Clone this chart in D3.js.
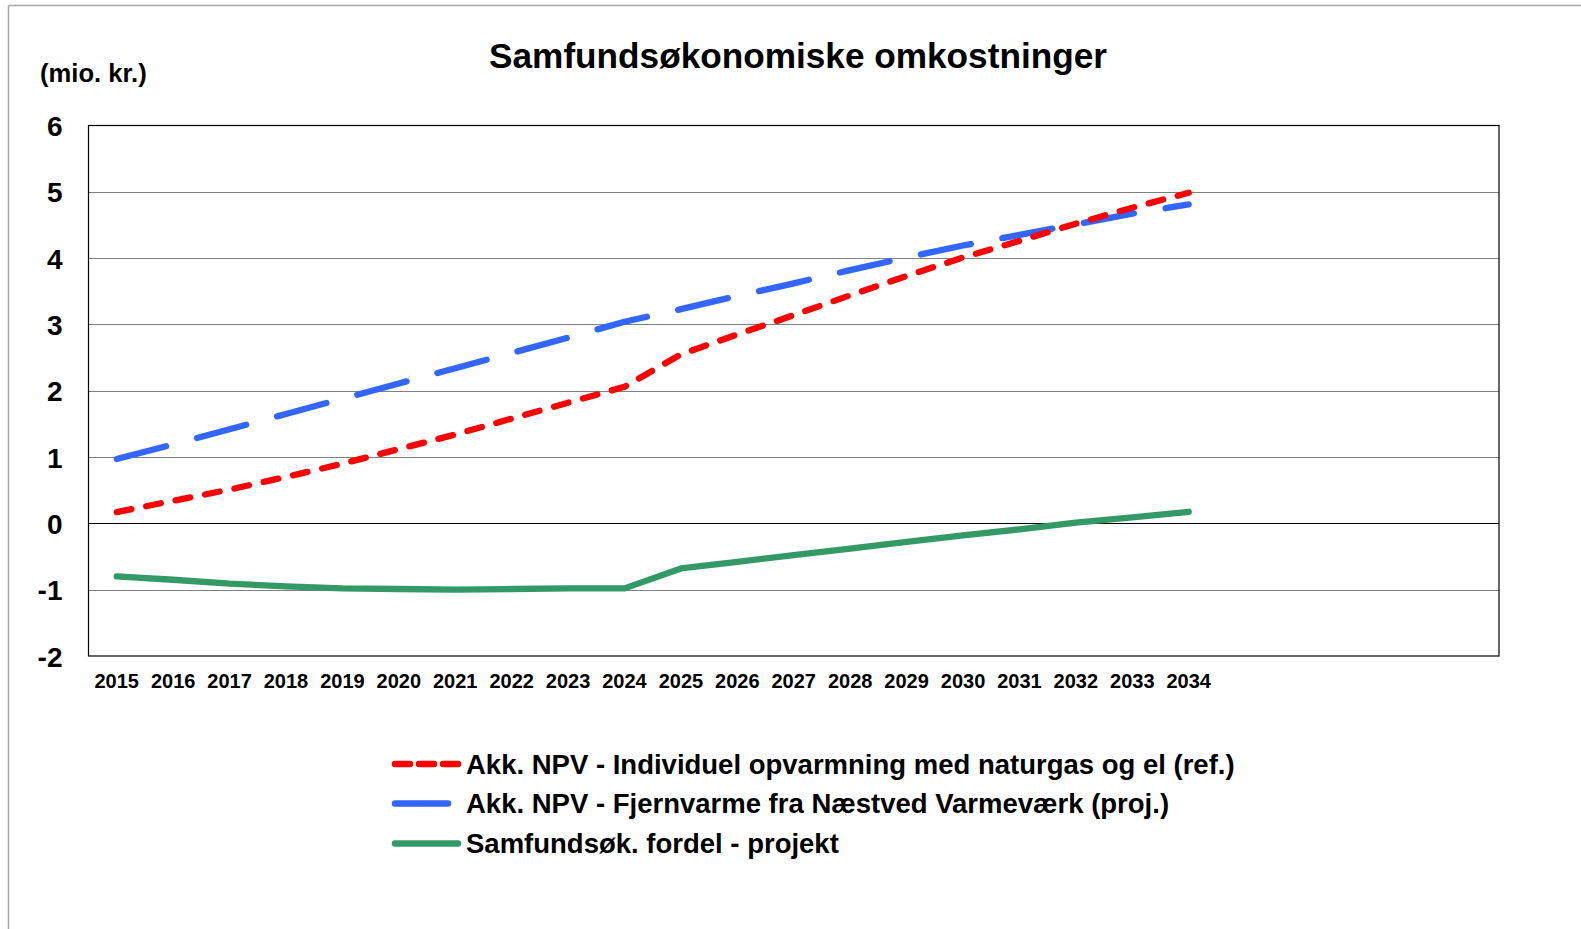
<!DOCTYPE html>
<html>
<head>
<meta charset="utf-8">
<script src="https://cdn.jsdelivr.net/npm/d3@7"></script>
<style>
  html, body { margin: 0; padding: 0; background: #fff; }
  svg { display: block; }
  text { font-family: Arial, "Liberation Sans", sans-serif; font-weight: bold; fill: #000; }
</style>
</head>
<body>
<svg id="chart" width="1581" height="929"></svg>
<script>
// ---- data ----
const years = ["2015","2016","2017","2018","2019","2020","2021","2022","2023","2024",
               "2025","2026","2027","2028","2029","2030","2031","2032","2033","2034"];
const refValues  = [0.17, 0.34, 0.51, 0.70, 0.90, 1.12, 1.34, 1.58, 1.82, 2.06,
                    2.55, 2.85, 3.14, 3.44, 3.73, 4.01, 4.26, 4.52, 4.76, 4.985];
const projValues = [0.97, 1.19, 1.42, 1.65, 1.88, 2.11, 2.34, 2.57, 2.80, 3.04,
                    3.23, 3.43, 3.62, 3.82, 4.01, 4.19, 4.35, 4.51, 4.67, 4.81];
const diffValues = [-0.80, -0.85, -0.91, -0.95, -0.98, -0.99, -1.00, -0.99, -0.98, -0.98,
                    -0.68, -0.58, -0.48, -0.38, -0.28, -0.18, -0.09, 0.01, 0.09, 0.175];
const yTicks = [-2, -1, 0, 1, 2, 3, 4, 5, 6];
const seriesNames = [
  "Akk. NPV - Individuel opvarmning med naturgas og el (ref.)",
  "Akk. NPV - Fjernvarme fra Næstved Varmeværk (proj.)",
  "Samfundsøk. fordel - projekt"
];
const title = "Samfundsøkonomiske omkostninger";
const unitLabel = "(mio. kr.)";

// ---- layout ----
const W = 1581, H = 929;
const plot = { left: 88.5, right: 1499, top: 125.5, bottom: 656 };
const slotCount = 25; // category axis has room for 25 slots, 20 used

const svg = d3.select("#chart");

// outer frame (gray lines top & left)
svg.append("line").attr("x1", 8.5).attr("x2", W).attr("y1", 5.5).attr("y2", 5.5)
  .attr("stroke", "#a6a6a6").attr("stroke-width", 1.5);
svg.append("line").attr("x1", 8.5).attr("x2", 8.5).attr("y1", 5.5).attr("y2", H)
  .attr("stroke", "#a6a6a6").attr("stroke-width", 1.5);

const slots = years.concat(d3.range(years.length, slotCount).map(i => "_" + i));
const x = d3.scaleBand().domain(slots).range([plot.left, plot.right]).paddingInner(0).paddingOuter(0);
const xc = d => x(d) + x.bandwidth() / 2;
const y = d3.scaleLinear().domain([-2, 6]).range([plot.bottom, plot.top]);

// gridlines
svg.append("g").selectAll("line").data(yTicks.filter(t => t > -2 && t < 6)).join("line")
  .attr("x1", plot.left).attr("x2", plot.right)
  .attr("y1", d => Math.round(y(d)) + 0.5).attr("y2", d => Math.round(y(d)) + 0.5)
  .attr("stroke", d => d === 0 ? "#000" : "#808080").attr("stroke-width", 1.2);

// plot border
svg.append("rect")
  .attr("x", plot.left).attr("y", plot.top)
  .attr("width", plot.right - plot.left).attr("height", plot.bottom - plot.top)
  .attr("fill", "none").attr("stroke", "#000").attr("stroke-width", 1.2);

// y axis labels (hyphen-minus as in the original)
const yAxis = d3.axisLeft(y).tickValues(yTicks).tickSize(0).tickPadding(0).tickFormat(d => String(d));
const gy = svg.append("g").attr("transform", `translate(${plot.left - 26},0)`).call(yAxis);
gy.select(".domain").remove();
gy.selectAll("text").attr("font-size", 28).attr("font-family", "Arial, 'Liberation Sans', sans-serif")
  .attr("font-weight", "bold").attr("fill", "#000").attr("dy", "0.36em");

// x axis labels
const xAxis = d3.axisBottom(x).tickValues(years).tickSize(0).tickPadding(0);
const gx = svg.append("g").attr("transform", `translate(0,${plot.bottom})`).call(xAxis);
gx.select(".domain").remove();
gx.selectAll("text").attr("font-size", 20).attr("font-family", "Arial, 'Liberation Sans', sans-serif")
  .attr("font-weight", "bold").attr("fill", "#000").attr("y", 32).attr("dy", 0);

// series
const series = [
  { name: seriesNames[0], values: refValues,  color: "#ff0000", dash: "15,15", cap: "round" },
  { name: seriesNames[1], values: projValues, color: "#3366ff", dash: "51,32", cap: "round" },
  { name: seriesNames[2], values: diffValues, color: "#339966", dash: null,    cap: "round" }
];
const line = d3.line().x((d, i) => xc(years[i])).y(d => y(d));
// draw green first, then blue, then red on top
[series[2], series[1], series[0]].forEach(s => {
  svg.append("path").datum(s.values)
    .attr("d", line).attr("fill", "none")
    .attr("stroke", s.color).attr("stroke-width", 6.3)
    .attr("stroke-linecap", s.cap).attr("stroke-linejoin", "round")
    .attr("stroke-dasharray", s.dash);
});

// title
svg.append("text").attr("x", 798).attr("y", 68).attr("text-anchor", "middle")
  .attr("font-size", 35.2).text(title);
svg.append("text").attr("x", 40).attr("y", 82).attr("font-size", 25.6).text(unitLabel);

// legend
const legY = [764, 803.5, 843.5];
const legend = svg.append("g");
series.forEach((s, i) => {
  const g = legend.append("g");
  if (i === 0) {
    g.append("line").attr("x1", 395).attr("x2", 459).attr("y1", legY[i]).attr("y2", legY[i])
      .attr("stroke", s.color).attr("stroke-width", 6.5).attr("stroke-linecap", "round")
      .attr("stroke-dasharray", "15,9");
  } else if (i === 1) {
    g.append("line").attr("x1", 395).attr("x2", 448).attr("y1", legY[i]).attr("y2", legY[i])
      .attr("stroke", s.color).attr("stroke-width", 6.5).attr("stroke-linecap", "round");
  } else {
    g.append("line").attr("x1", 395).attr("x2", 458).attr("y1", legY[i]).attr("y2", legY[i])
      .attr("stroke", s.color).attr("stroke-width", 6.5).attr("stroke-linecap", "round");
  }
  g.append("text").attr("x", 466).attr("y", legY[i] + 9.5).attr("font-size", 27.5).text(s.name);
});
</script>
</body>
</html>
